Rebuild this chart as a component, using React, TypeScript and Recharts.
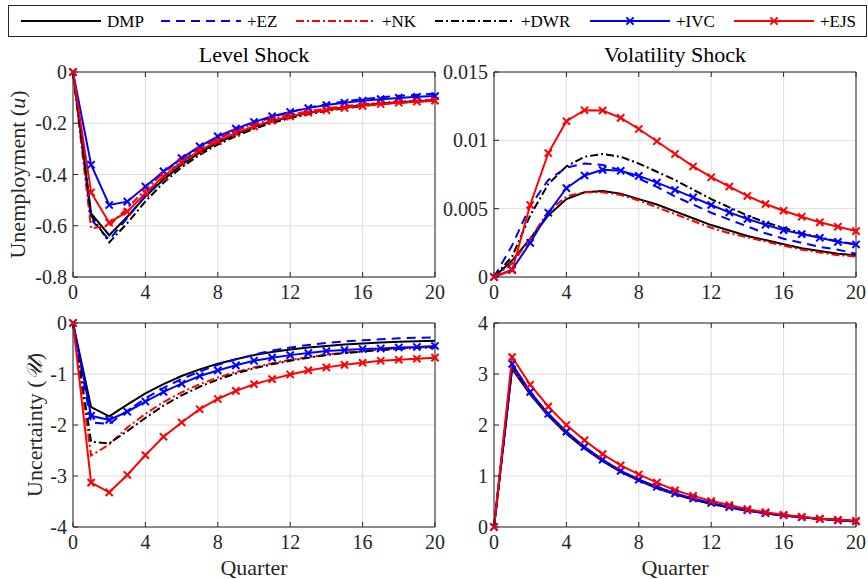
import React from 'react';
import { LineChart, Line, XAxis, YAxis, CartesianGrid } from 'recharts';

const quarters = [0, 1, 2, 3, 4, 5, 6, 7, 8, 9, 10, 11, 12, 13, 14, 15, 16, 17, 18, 19, 20];
const xTicks = [0, 4, 8, 12, 16, 20];

const seriesKeys = ['DMP', 'EZ', 'NK', 'DWR', 'IVC', 'EJS'];
const seriesNames = ['DMP', '+EZ', '+NK', '+DWR', '+IVC', '+EJS'];

// Level shock, unemployment
const luDMP = [0, -0.552, -0.637, -0.565, -0.486, -0.42, -0.362, -0.315, -0.276, -0.243, -0.215, -0.193, -0.175, -0.16, -0.148, -0.138, -0.13, -0.123, -0.118, -0.114, -0.11];
const luEZ = [0, -0.575, -0.655, -0.57, -0.482, -0.41, -0.35, -0.3, -0.26, -0.228, -0.2, -0.176, -0.156, -0.139, -0.126, -0.115, -0.106, -0.099, -0.093, -0.089, -0.085];
const luNK = [0, -0.61, -0.6, -0.53, -0.46, -0.395, -0.34, -0.296, -0.26, -0.229, -0.204, -0.183, -0.166, -0.153, -0.142, -0.133, -0.126, -0.12, -0.115, -0.111, -0.108];
const luDWR = [0, -0.56, -0.665, -0.59, -0.505, -0.432, -0.372, -0.323, -0.283, -0.25, -0.222, -0.199, -0.18, -0.165, -0.152, -0.142, -0.133, -0.126, -0.12, -0.116, -0.112];
const luIVC = [0, -0.362, -0.519, -0.506, -0.447, -0.388, -0.336, -0.29, -0.251, -0.221, -0.195, -0.173, -0.156, -0.141, -0.129, -0.12, -0.112, -0.106, -0.101, -0.097, -0.094];
const luEJS = [0, -0.47, -0.588, -0.545, -0.473, -0.408, -0.352, -0.307, -0.27, -0.238, -0.212, -0.19, -0.173, -0.159, -0.149, -0.14, -0.132, -0.125, -0.12, -0.116, -0.112];

// Volatility shock, unemployment
const vuDMP = [0, 0.0012, 0.0028, 0.0045, 0.0057, 0.0062, 0.0063, 0.0061, 0.0057, 0.0053, 0.0048, 0.0043, 0.0038, 0.0034, 0.003, 0.0027, 0.0024, 0.0021, 0.0019, 0.0017, 0.0016];
const vuEZ = [0, 0.0023, 0.0052, 0.0071, 0.008, 0.0083, 0.0082, 0.0078, 0.0072, 0.0066, 0.0059, 0.0053, 0.0047, 0.0042, 0.0037, 0.0032, 0.0028, 0.0025, 0.0022, 0.002, 0.0017];
const vuNK = [0, 0.001, 0.0028, 0.0048, 0.0059, 0.0062, 0.0062, 0.006, 0.0056, 0.0051, 0.0046, 0.0041, 0.0036, 0.0032, 0.0029, 0.0026, 0.0023, 0.002, 0.0018, 0.0016, 0.0015];
const vuDWR = [0, 0.0015, 0.0045, 0.0068, 0.0081, 0.0088, 0.009, 0.0088, 0.0083, 0.0077, 0.0071, 0.0064, 0.0057, 0.0051, 0.0045, 0.004, 0.0036, 0.0032, 0.0029, 0.0026, 0.0024];
const vuIVC = [0, 0.00054, 0.0025, 0.0047, 0.0065, 0.00743, 0.00784, 0.00777, 0.0074, 0.00691, 0.00637, 0.00583, 0.00527, 0.00473, 0.00424, 0.00382, 0.00343, 0.00314, 0.00287, 0.00257, 0.00238];
const vuEJS = [0, 0.00049, 0.00527, 0.00907, 0.0114, 0.0122, 0.01218, 0.01164, 0.01083, 0.00993, 0.009, 0.00809, 0.0073, 0.00662, 0.00593, 0.00534, 0.00485, 0.00441, 0.004, 0.00368, 0.00336];

// Level shock, uncertainty
const lxDMP = [0, -1.65, -1.83, -1.6, -1.38, -1.2, -1.04, -0.91, -0.8, -0.71, -0.63, -0.57, -0.52, -0.48, -0.45, -0.42, -0.4, -0.38, -0.37, -0.36, -0.35];
const lxEZ = [0, -1.95, -1.98, -1.72, -1.48, -1.27, -1.1, -0.95, -0.82, -0.71, -0.62, -0.54, -0.48, -0.43, -0.39, -0.36, -0.34, -0.32, -0.3, -0.29, -0.28];
const lxNK = [0, -2.6, -2.38, -2.05, -1.78, -1.55, -1.36, -1.2, -1.07, -0.96, -0.87, -0.79, -0.72, -0.67, -0.62, -0.58, -0.55, -0.52, -0.5, -0.48, -0.47];
const lxDWR = [0, -2.33, -2.36, -2.12, -1.86, -1.62, -1.42, -1.25, -1.11, -0.99, -0.89, -0.81, -0.74, -0.68, -0.63, -0.59, -0.56, -0.53, -0.51, -0.49, -0.48];
const lxIVC = [0, -1.82, -1.9, -1.74, -1.54, -1.35, -1.19, -1.04, -0.93, -0.83, -0.74, -0.68, -0.63, -0.59, -0.55, -0.53, -0.51, -0.5, -0.48, -0.47, -0.45];
const lxEJS = [0, -3.13, -3.32, -2.98, -2.59, -2.23, -1.95, -1.69, -1.49, -1.33, -1.2, -1.1, -1.01, -0.93, -0.87, -0.82, -0.78, -0.74, -0.72, -0.7, -0.68];

// Volatility shock, uncertainty
const vxDMP = [0, 3.1, 2.6, 2.18, 1.83, 1.54, 1.29, 1.08, 0.91, 0.76, 0.64, 0.54, 0.45, 0.38, 0.32, 0.27, 0.22, 0.19, 0.16, 0.13, 0.11];
const vxEZ = [0, 3.12, 2.61, 2.19, 1.84, 1.54, 1.3, 1.09, 0.91, 0.77, 0.65, 0.54, 0.46, 0.38, 0.32, 0.27, 0.23, 0.19, 0.16, 0.13, 0.11];
const vxNK = [0, 3.13, 2.63, 2.2, 1.85, 1.56, 1.31, 1.1, 0.92, 0.78, 0.65, 0.55, 0.46, 0.39, 0.33, 0.27, 0.23, 0.19, 0.16, 0.14, 0.12];
const vxDWR = [0, 3.15, 2.64, 2.21, 1.86, 1.56, 1.31, 1.1, 0.93, 0.78, 0.66, 0.55, 0.46, 0.39, 0.33, 0.28, 0.23, 0.19, 0.16, 0.14, 0.12];
const vxIVC = [0, 3.2, 2.65, 2.22, 1.87, 1.57, 1.32, 1.1, 0.93, 0.79, 0.66, 0.56, 0.47, 0.39, 0.33, 0.27, 0.23, 0.19, 0.16, 0.13, 0.11];
const vxEJS = [0, 3.33, 2.79, 2.36, 2.0, 1.7, 1.43, 1.21, 1.03, 0.87, 0.72, 0.61, 0.51, 0.43, 0.35, 0.29, 0.24, 0.2, 0.16, 0.14, 0.12];

const luTicks = [-0.8, -0.6, -0.4, -0.2, 0];
const vuTicks = [0, 0.005, 0.01, 0.015];
const lxTicks = [-4, -3, -2, -1, 0];
const vxTicks = [0, 1, 2, 3, 4];

const FONT = "'Liberation Serif', 'Times New Roman', serif";
const AXIS = '#262626';

const lineStyles: Record<string, { color: string; dash?: string; marker?: boolean }> = {
  DMP: { color: '#000000' },
  EZ: { color: '#0000ff', dash: '9 6' },
  NK: { color: '#ff0000', dash: '8 3 2 3' },
  DWR: { color: '#000000', dash: '8 3 2 3' },
  IVC: { color: '#0000ff', marker: true },
  EJS: { color: '#ff0000', marker: true },
};

// legend sample start (page x)
const legendX = [21, 161, 296, 435, 590, 734];

function buildRows(cols: number[][]) {
  return quarters.map((q, i) => {
    const row: any = { q };
    seriesKeys.forEach((k, j) => {
      row[k] = cols[j][i];
    });
    return row;
  });
}

function Cross({ cx, cy, color }: { cx?: number; cy?: number; color: string }) {
  if (cx == null || cy == null) return null;
  const s = 3.6;
  return (
    <path
      d={`M${cx - s},${cy - s}L${cx + s},${cy + s}M${cx - s},${cy + s}L${cx + s},${cy - s}`}
      stroke={color}
      strokeWidth={2}
      fill="none"
    />
  );
}

function YLabel({ lx, ly, text, sym }: { lx: number; ly: number; text: string; sym: string }) {
  return (
    <text
      x={lx}
      y={ly}
      transform={`rotate(-90 ${lx} ${ly})`}
      textAnchor="middle"
      dominantBaseline="central"
      fontSize={22}
      fill={AXIS}
      fontFamily={FONT}
    >
      {text} (<tspan fontStyle="italic">{sym}</tspan>)
    </text>
  );
}

interface PanelProps {
  left: number;
  top: number;
  plotW: number;
  plotH: number;
  rows: any[];
  yTicks: number[];
  title: string;
  yLabel?: { text: string; sym: string; x: number };
  xLabel?: string;
}

function Panel({ left, top, plotW, plotH, rows, yTicks, title, yLabel, xLabel }: PanelProps) {
  const W = plotW + 73 + 12;
  const H = 40 + plotH + 30 + 22;
  const domain = [yTicks[0], yTicks[yTicks.length - 1]];
  const tick = { fontSize: 20, fill: AXIS, fontFamily: FONT };
  return (
    <div style={{ position: 'absolute', left, top, width: W, height: H }}>
      <LineChart width={W} height={H} data={rows} margin={{ top: 30, right: 10, bottom: 22, left: 0 }}>
        <CartesianGrid stroke="#dedede" strokeWidth={1} />
        <XAxis
          dataKey="q"
          type="number"
          domain={[0, 20]}
          ticks={xTicks}
          interval={0}
          height={30}
          tickSize={-5}
          tickMargin={13}
          stroke={AXIS}
          tick={tick}
          label={xLabel ? { value: xLabel, position: 'bottom', offset: 2, fontSize: 22, fill: AXIS, fontFamily: FONT } : undefined}
        />
        <XAxis
          xAxisId="top"
          orientation="top"
          dataKey="q"
          type="number"
          domain={[0, 20]}
          ticks={xTicks}
          interval={0}
          height={10}
          tickSize={-5}
          tickFormatter={() => ''}
          stroke={AXIS}
          label={{ value: title, position: 'top', offset: 0, fontSize: 22, fill: '#000', fontFamily: FONT }}
        />
        <YAxis
          type="number"
          domain={domain}
          ticks={yTicks}
          interval={0}
          width={73}
          tickSize={-5}
          tickMargin={11}
          stroke={AXIS}
          tick={tick}
          tickFormatter={(v: number) => String(v)}
          label={yLabel ? <YLabel lx={yLabel.x} ly={40 + plotH / 2} text={yLabel.text} sym={yLabel.sym} /> : undefined}
        />
        <YAxis
          yAxisId="r"
          orientation="right"
          type="number"
          domain={domain}
          ticks={yTicks}
          interval={0}
          width={2}
          tickSize={-5}
          tickFormatter={() => ''}
          stroke={AXIS}
        />
        {seriesKeys.map((k) => {
          const st = lineStyles[k];
          return (
            <Line
              key={k}
              type="linear"
              dataKey={k}
              stroke={st.color}
              strokeWidth={2}
              strokeDasharray={st.dash}
              dot={st.marker ? (p: any) => <Cross key={`${k}-${p.index}`} cx={p.cx} cy={p.cy} color={st.color} /> : false}
              activeDot={false}
              isAnimationActive={false}
            />
          );
        })}
      </LineChart>
    </div>
  );
}

function LegendBox() {
  const ox = 8;
  const oy = 5;
  const cy = 16;
  return (
    <svg style={{ position: 'absolute', left: ox, top: oy }} width={859} height={32}>
      <rect x={0.5} y={0.5} width={858} height={31} fill="#ffffff" stroke={AXIS} strokeWidth={1} />
      {seriesKeys.map((k, i) => {
        const st = lineStyles[k];
        const x0 = legendX[i] - ox;
        return (
          <g key={k}>
            <line x1={x0} x2={x0 + 80} y1={cy} y2={cy} stroke={st.color} strokeWidth={2} strokeDasharray={st.dash} />
            {st.marker && <Cross cx={x0 + 40} cy={cy} color={st.color} />}
            <text x={x0 + 86} y={cy} dominantBaseline="central" fontSize={17} fontFamily={FONT} fill="#000">
              {seriesNames[i]}
            </text>
          </g>
        );
      })}
    </svg>
  );
}

export default function App() {
  const luRows = buildRows([luDMP, luEZ, luNK, luDWR, luIVC, luEJS]);
  const vuRows = buildRows([vuDMP, vuEZ, vuNK, vuDWR, vuIVC, vuEJS]);
  const lxRows = buildRows([lxDMP, lxEZ, lxNK, lxDWR, lxIVC, lxEJS]);
  const vxRows = buildRows([vxDMP, vxEZ, vxNK, vxDWR, vxIVC, vxEJS]);
  return (
    <div style={{ position: 'absolute', left: 0, top: 0, width: 868, height: 579, background: '#fff', fontFamily: FONT, overflow: 'hidden' }}>
      <Panel left={0} top={32} plotW={362} plotH={205} rows={luRows} yTicks={luTicks} title="Level Shock"
        yLabel={{ text: 'Unemployment', sym: 'u', x: 17 }} />
      <Panel left={421} top={32} plotW={362} plotH={205} rows={vuRows} yTicks={vuTicks} title="Volatility Shock" />
      <Panel left={0} top={283} plotW={362} plotH={204} rows={lxRows} yTicks={lxTicks} title=""
        yLabel={{ text: 'Uncertainty', sym: '𝒰', x: 34 }} xLabel="Quarter" />
      <Panel left={421} top={283} plotW={362} plotH={204} rows={vxRows} yTicks={vxTicks} title="" xLabel="Quarter" />
      <LegendBox />
    </div>
  );
}
